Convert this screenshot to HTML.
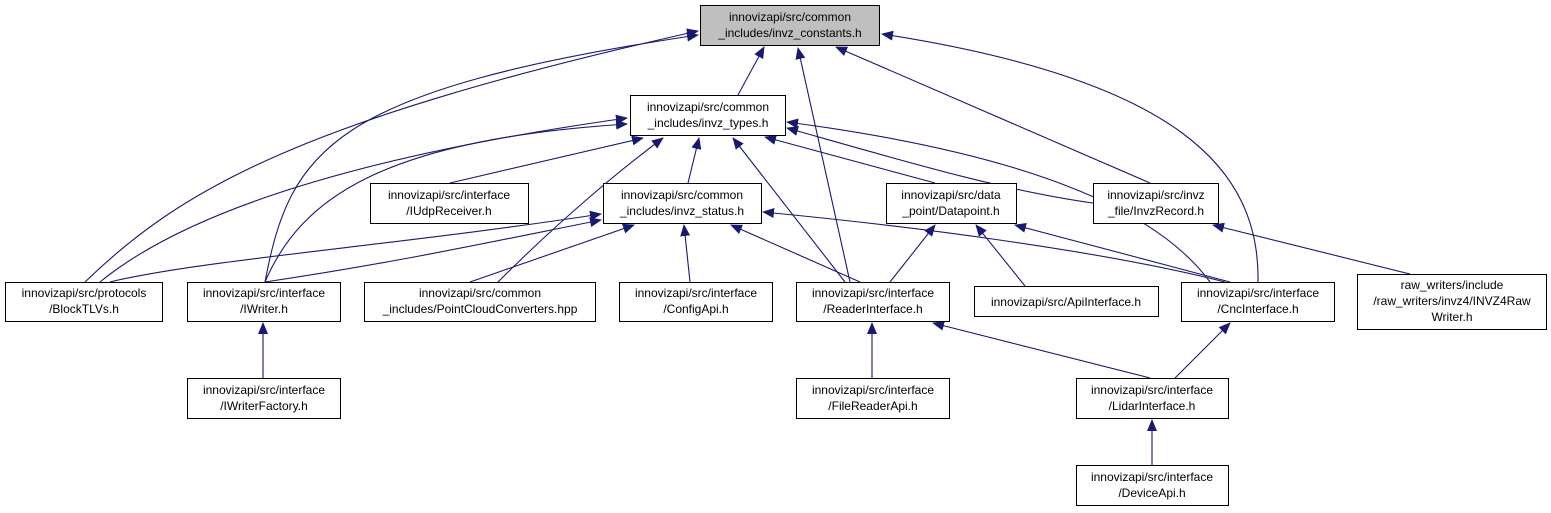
<!DOCTYPE html>
<html><head><meta charset="utf-8"><style>
html,body{margin:0;padding:0;background:#fff;width:1551px;height:513px;overflow:hidden}
svg text{font-family:"Liberation Sans",Arial,sans-serif;font-size:12px;fill:#000}
</style></head><body>
<svg width="1551" height="513" viewBox="0 0 1551 513" xmlns="http://www.w3.org/2000/svg">
<defs><marker id="a" markerWidth="12" markerHeight="10" refX="11" refY="5" orient="auto" markerUnits="userSpaceOnUse"><path d="M0,0 L12,5 L0,10 Z" fill="#191970"/></marker></defs>
<g fill="none" stroke="#191970" stroke-width="1.1" marker-end="url(#a)">
<!-- to constants -->
<path d="M738,95 L764,47"/>
<path d="M85,282 C180,190 300,120 698,31"/>
<path d="M265,282 C290,150 330,90 698,35"/>
<path d="M850,282 L798,48"/>
<path d="M1150,183 L836,47"/>
<path d="M1258,282 C1260,170 1180,80 882,34"/>
<!-- to types -->
<path d="M100,282 C200,200 400,150 627,118"/>
<path d="M265,282 C300,200 380,140 627,124"/>
<path d="M450,183 L643,138"/>
<path d="M498,282 C560,220 620,170 663,138"/>
<path d="M688,183 L699,138"/>
<path d="M845,282 L733,138"/>
<path d="M935,183 L765,137"/>
<path d="M1093,203 C1000,190 900,160 787,128"/>
<path d="M1210,282 C1150,200 1000,150 787,122"/>
<!-- to status -->
<path d="M110,282 C200,260 400,245 601,214"/>
<path d="M265,282 C400,262 500,240 601,220"/>
<path d="M470,282 L634,225"/>
<path d="M690,282 L684,225"/>
<path d="M860,282 L731,225"/>
<path d="M1225,282 C1100,250 900,225 763,212"/>
<!-- to datapoint -->
<path d="M890,282 L935,225"/>
<path d="M1025,286 L976,225"/>
<path d="M1230,282 L1015,225"/>
<!-- others -->
<path d="M1410,274 L1213,225"/>
<path d="M263,378 L263,323"/>
<path d="M872,378 L872,323"/>
<path d="M1150,378 L933,323"/>
<path d="M1175,378 L1230,323"/>
<path d="M1152,465 L1152,420"/>
</g>
<g stroke="#000" stroke-width="1">
<rect x="700.5" y="5.5" width="179" height="40" fill="#bfbfbf"/>
<rect x="630.5" y="95.5" width="155" height="40" fill="#fff"/>
<rect x="370.5" y="183.5" width="158" height="40" fill="#fff"/>
<rect x="603.5" y="183.5" width="158" height="40" fill="#fff"/>
<rect x="886.5" y="183.5" width="130" height="40" fill="#fff"/>
<rect x="1093.5" y="183.5" width="125" height="40" fill="#fff"/>
<rect x="5.5" y="282.5" width="157" height="39" fill="#fff"/>
<rect x="187.5" y="282.5" width="153" height="39" fill="#fff"/>
<rect x="364.5" y="282.5" width="231" height="39" fill="#fff"/>
<rect x="619.5" y="282.5" width="153" height="39" fill="#fff"/>
<rect x="796.5" y="282.5" width="153" height="39" fill="#fff"/>
<rect x="974.5" y="286.5" width="184" height="30" fill="#fff"/>
<rect x="1181.5" y="282.5" width="153" height="39" fill="#fff"/>
<rect x="1357.5" y="274.5" width="189" height="55" fill="#fff"/>
<rect x="187.5" y="378.5" width="153" height="40" fill="#fff"/>
<rect x="796.5" y="378.5" width="153" height="40" fill="#fff"/>
<rect x="1076.5" y="378.5" width="152" height="40" fill="#fff"/>
<rect x="1076.5" y="465.5" width="152" height="40" fill="#fff"/>
</g>
<g text-anchor="middle">
<text x="790" y="21">innovizapi/src/common</text><text x="790" y="37">_includes/invz_constants.h</text>
<text x="708" y="111">innovizapi/src/common</text><text x="708" y="127">_includes/invz_types.h</text>
<text x="449" y="199">innovizapi/src/interface</text><text x="449" y="215">/IUdpReceiver.h</text>
<text x="682" y="199">innovizapi/src/common</text><text x="682" y="215">_includes/invz_status.h</text>
<text x="951" y="199">innovizapi/src/data</text><text x="951" y="215">_point/Datapoint.h</text>
<text x="1156" y="199">innovizapi/src/invz</text><text x="1156" y="215">_file/InvzRecord.h</text>
<text x="84" y="297">innovizapi/src/protocols</text><text x="84" y="313">/BlockTLVs.h</text>
<text x="264" y="297">innovizapi/src/interface</text><text x="264" y="313">/IWriter.h</text>
<text x="480" y="297">innovizapi/src/common</text><text x="480" y="313">_includes/PointCloudConverters.hpp</text>
<text x="696" y="297">innovizapi/src/interface</text><text x="696" y="313">/ConfigApi.h</text>
<text x="873" y="297">innovizapi/src/interface</text><text x="873" y="313">/ReaderInterface.h</text>
<text x="1066" y="306">innovizapi/src/ApiInterface.h</text>
<text x="1258" y="297">innovizapi/src/interface</text><text x="1258" y="313">/CncInterface.h</text>
<text x="1452" y="289">raw_writers/include</text><text x="1452" y="305">/raw_writers/invz4/INVZ4Raw</text><text x="1452" y="321">Writer.h</text>
<text x="264" y="394">innovizapi/src/interface</text><text x="264" y="410">/IWriterFactory.h</text>
<text x="873" y="394">innovizapi/src/interface</text><text x="873" y="410">/FileReaderApi.h</text>
<text x="1152" y="394">innovizapi/src/interface</text><text x="1152" y="410">/LidarInterface.h</text>
<text x="1152" y="481">innovizapi/src/interface</text><text x="1152" y="497">/DeviceApi.h</text>
</g>
</svg>
</body></html>
